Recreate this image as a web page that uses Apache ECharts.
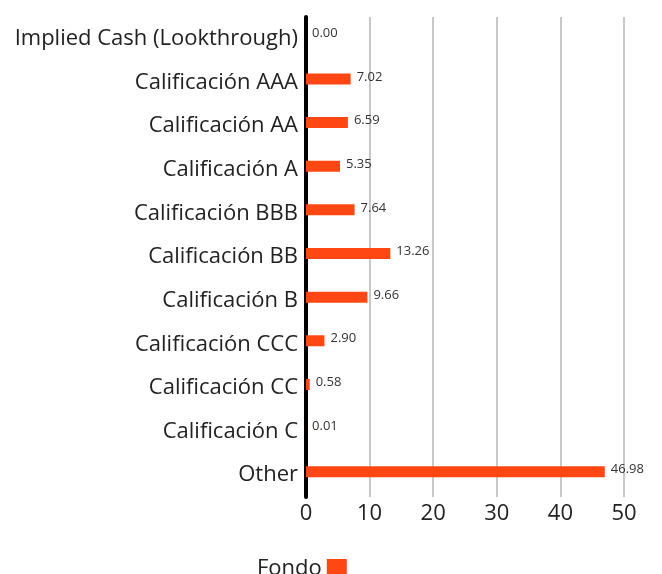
<!DOCTYPE html>
<html>
<head>
<meta charset="utf-8">
<script src="https://cdn.jsdelivr.net/npm/echarts@6/dist/echarts.min.js"></script>
<style>
  html, body { margin: 0; padding: 0; background: #fff; }
  #main { width: 662px; height: 574px; }
</style>
</head>
<body>
<div id="main"></div>
<script>
// calidad crediticia del fondo
const categories = [
  'Implied Cash (Lookthrough)',
  'Calificación AAA',
  'Calificación AA',
  'Calificación A',
  'Calificación BBB',
  'Calificación BB',
  'Calificación B',
  'Calificación CCC',
  'Calificación CC',
  'Calificación C',
  'Other'
]
const fondoValues = [0.00, 7.02, 6.59, 5.35, 7.64, 13.26, 9.66, 2.90, 0.58, 0.01, 46.98]
const xTicks = [0, 10, 20, 30, 40, 50]

const fontName = '"Open Sans", "Noto Sans", sans-serif'
const orange = '#ff4713'

const chart = echarts.init(document.getElementById('main'))
chart.setOption({
  animation: false,
  grid: { left: 306, right: 38, top: 17, bottom: 77, containLabel: false },
  legend: {
    data: ['Fondo'],
    top: 553,
    left: 252,
    align: 'right',
    itemWidth: 20,
    itemHeight: 20,
    icon: 'rect',
    textStyle: { fontSize: 22, color: '#222', fontFamily: fontName, padding: [10, 0, 0, 0] }
  },
  xAxis: {
    type: 'value',
    min: xTicks[0],
    max: xTicks[xTicks.length - 1],
    interval: 10,
    axisLine: { show: false },
    axisTick: { show: false },
    axisLabel: { fontSize: 22, color: '#222', fontFamily: fontName, margin: 6 },
    splitLine: { lineStyle: { color: '#c8c8c8', width: 2 } }
  },
  yAxis: {
    type: 'category',
    inverse: true,
    data: categories,
    axisLine: { show: true, lineStyle: { color: '#000', width: 4 } },
    axisTick: { show: false },
    axisLabel: { fontSize: 22, color: '#222', fontFamily: fontName, margin: 8, padding: [6, 0, 0, 0] }
  },
  series: [{
    name: 'Fondo',
    type: 'bar',
    data: fondoValues,
    barWidth: 11,
    barGap: '0%',
    itemStyle: { color: orange },
    label: {
      show: true,
      position: 'right',
      offset: [0, -2],
      distance: 6,
      fontSize: 13,
      color: '#333',
      fontFamily: fontName,
      formatter: p => p.value.toFixed(2)
    }
  }, {
    name: 'hueco',
    type: 'bar',
    data: fondoValues.map(() => '-'),
    barWidth: 7,
    silent: true
  }]
})
</script>
</body>
</html>
